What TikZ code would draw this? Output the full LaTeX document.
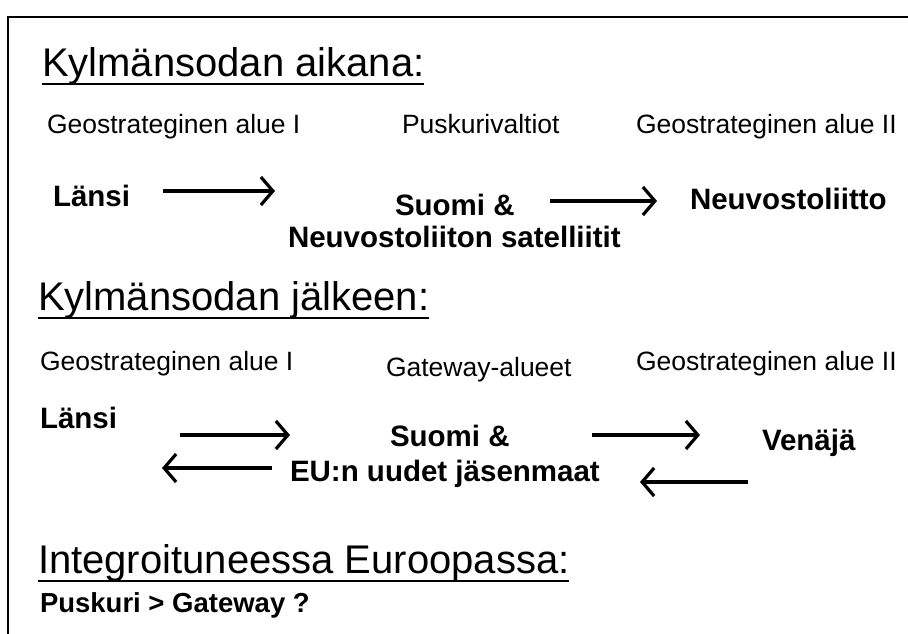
\documentclass[tikz,border=0pt]{standalone}
\usepackage{fontspec}
\setmainfont{Liberation Sans}
\usetikzlibrary{arrows.meta}
\tikzset{
  txt/.style={anchor=base west, inner sep=0pt, outer sep=0pt},
  head/.style={txt, font=\fontsize{40}{48}\selectfont},
  lab/.style={txt, font=\fontsize{26.5}{32}\selectfont},
  bld/.style={txt, font=\fontsize{29.5}{36}\selectfont\bfseries},
  uline/.style={line width=2.4pt},
  arr/.style={line width=3.2pt, -{Straight Barb[length=12pt,width=28pt,line width=3.2pt]}},
  frame/.style={line width=2.8pt, line join=miter}
}
\begin{document}
\begin{tikzpicture}[x=1pt,y=1pt]
\useasboundingbox (0,0) rectangle (908,-633);
% frame
\draw[frame] (910,-17) -- (8,-17) -- (8,-640);
% section 1
\node[head] (h1) at (42,-76) {Kylmänsodan aikana:};
\draw[uline] ([yshift=-8pt]h1.base west) -- ([yshift=-8pt]h1.base east);
\node[lab] (g1) at (47,-133) {Geostrateginen alue I};
\node[lab] (p1) at (402,-133) {Puskurivaltiot};
\node[lab] (g2) at (636,-133) {Geostrateginen alue II};
\node[bld] (w1) at (53,-206) {Länsi};
\node[bld] (s1) at (395,-215) {Suomi \&};
\node[bld] (ns) at (288,-247) {Neuvostoliiton satelliitit};
\node[bld] (nl) at (690,-209) {Neuvostoliitto};
\coordinate (a1s) at (163,-191);
\coordinate (a1e) at (275,-191);
\coordinate (a2s) at (550,-201);
\coordinate (a2e) at (657,-201);
\draw[arr] (a1s) -- (a1e);
\draw[arr] (a2s) -- (a2e);
% section 2
\node[head] (h2) at (38,-310) {Kylmänsodan jälkeen:};
\draw[uline] ([yshift=-8pt]h2.base west) -- ([yshift=-8pt]h2.base east);
\node[lab] (g3) at (40,-370) {Geostrateginen alue I};
\node[lab] (ga) at (386,-376) {Gateway-alueet};
\node[lab] (g4) at (636,-370) {Geostrateginen alue II};
\node[bld] (w2) at (40,-428) {Länsi};
\node[bld] (s2) at (390,-446) {Suomi \&};
\node[bld] (eu) at (290,-481) {EU:n uudet jäsenmaat};
\node[bld] (ve) at (762,-450) {Venäjä};
\coordinate (b1s) at (180,-435);
\coordinate (b1e) at (290,-435);
\coordinate (b2s) at (592,-435);
\coordinate (b2e) at (700,-435);
\coordinate (c1s) at (272,-468);
\coordinate (c1e) at (162,-468);
\coordinate (c2s) at (748,-482);
\coordinate (c2e) at (640,-482);
\draw[arr] (b1s) -- (b1e);
\draw[arr] (b2s) -- (b2e);
\draw[arr] (c1s) -- (c1e);
\draw[arr] (c2s) -- (c2e);
% section 3
\node[head] (h3) at (38,-573) {Integroituneessa Euroopassa:};
\draw[uline] ([yshift=-8pt]h3.base west) -- ([yshift=-8pt]h3.base east);
\node[bld, font=\fontsize{27.5}{33}\selectfont\bfseries] (pg) at (40,-612) {Puskuri > Gateway ?};
\end{tikzpicture}
\end{document}
